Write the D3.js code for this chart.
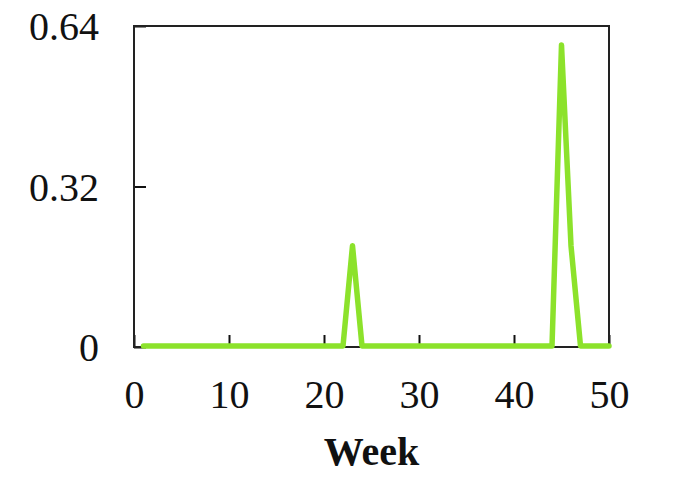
<!DOCTYPE html>
<html>
<head>
<meta charset="utf-8">
<script src="https://cdn.jsdelivr.net/npm/d3@7"></script>
<style>
  body { margin: 0; background: #fff; }
  text { font-family: "Liberation Serif", "Times New Roman", serif; fill: #111; }
</style>
</head>
<body>
<div id="chart"></div>
<script>
const svgWidth = 677,
      svgHeight = 495,
      margin = {top: 26, right: 68, bottom: 148, left: 134},
      width = svgWidth - margin.left - margin.right,
      height = svgHeight - margin.top - margin.bottom;

// weekly values
const weeks = d3.range(1, 51);
const values = [
  0, 0, 0, 0, 0, 0, 0, 0, 0, 0,
  0, 0, 0, 0, 0, 0, 0, 0, 0, 0,
  0, 0, 0.2, 0, 0, 0, 0, 0, 0, 0,
  0, 0, 0, 0, 0, 0, 0, 0, 0, 0,
  0, 0, 0, 0, 0.6, 0.2, 0, 0, 0, 0
];
const xTicks = [0, 10, 20, 30, 40, 50];
const yTicks = [0, 0.32, 0.64];

let scaleX = d3.scaleLinear().domain([0, 50]).range([0, width]),
    scaleY = d3.scaleLinear().domain([0, 0.64]).range([height, 0]);

let svg = d3.select("#chart")
  .append("svg")
  .attr("width", svgWidth)
  .attr("height", svgHeight);

let g = svg.append("g")
  .attr("transform", "translate(" + margin.left + "," + margin.top + ")");

// axes with inward ticks
let xAxis = g.append("g")
  .attr("transform", "translate(0," + height + ")")
  .call(d3.axisBottom(scaleX).tickValues(xTicks).tickSizeInner(-12).tickSizeOuter(0).tickPadding(0).tickFormat(d3.format("d")));

let yAxis = g.append("g")
  .call(d3.axisLeft(scaleY).tickValues(yTicks).tickSizeInner(-12).tickSizeOuter(0).tickPadding(0).tickFormat(d => d === 0 ? "0" : d3.format(".2f")(d)));

[xAxis, yAxis].forEach(a => {
  a.select(".domain").remove();
  a.selectAll("line").attr("stroke", "#111").attr("stroke-width", 2);
  a.selectAll("text").style("font-size", "40px").attr("fill", "#111");
});
xAxis.selectAll("text").attr("y", 0).attr("dy", "1.53em");
yAxis.selectAll("text").attr("x", -35).attr("dy", "0.34em");

// frame
g.append("rect")
  .attr("x", 0)
  .attr("y", 0)
  .attr("width", width)
  .attr("height", height)
  .attr("fill", "none")
  .attr("stroke", "#222")
  .attr("stroke-width", 2);

// the series
let line = d3.line()
  .x((d, i) => scaleX(weeks[i]))
  .y(d => scaleY(d) - 1);

g.append("path")
  .datum(values)
  .attr("d", line)
  .attr("fill", "none")
  .attr("stroke", "#8ce22b")
  .attr("stroke-width", 5.5)
  .attr("stroke-linejoin", "round")
  .attr("stroke-linecap", "round");

svg.append("text")
  .attr("x", margin.left + width / 2)
  .attr("y", 465)
  .style("text-anchor", "middle")
  .style("font-size", "40px")
  .style("font-weight", "bold")
  .text("Week");
</script>
</body>
</html>
